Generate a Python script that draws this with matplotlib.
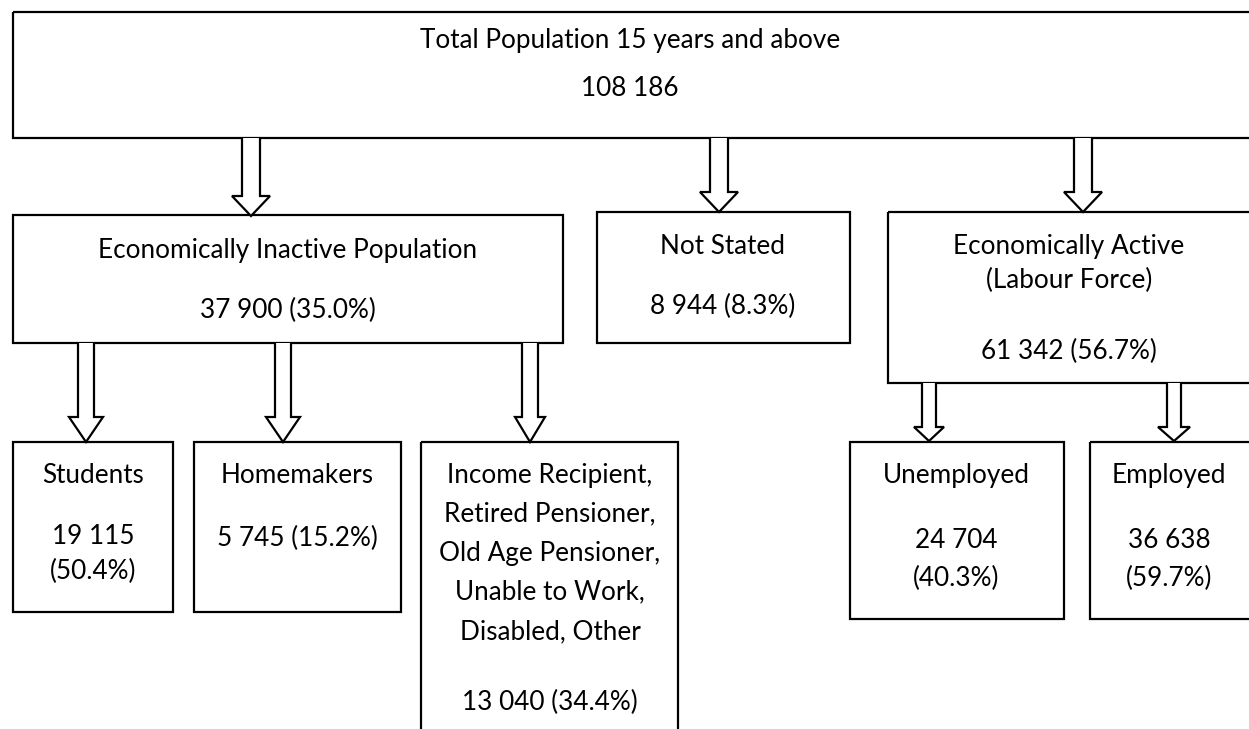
import matplotlib
matplotlib.use("Agg")
import matplotlib.pyplot as plt
from matplotlib.patches import Rectangle, Polygon

plt.rcParams['font.family'] = ['Lato', 'DejaVu Sans']

# ---- data ----
categories = ["Total Population 15 years and above",
              "Economically Inactive Population",
              "Not Stated",
              "Economically Active\n(Labour Force)",
              "Students", "Homemakers",
              "Income Recipient,\nRetired Pensioner,\nOld Age Pensioner,\nUnable to Work,\nDisabled, Other",
              "Unemployed", "Employed"]
counts = ["108 186", "37 900", "8 944", "61 342", "19 115", "5 745", "13 040", "24 704", "36 638"]
shares = [None, "35.0%", "8.3%", "56.7%", "50.4%", "15.2%", "34.4%", "40.3%", "59.7%"]

# ---- layout (pixels, y downward) ----
W, H = 1249, 729
boxes = [  # x0, y0, x1, y1
    (13, 12, 1260, 138),
    (13, 215, 563, 343),
    (597, 212, 850, 343),
    (888, 212, 1260, 383),
    (13, 442, 173, 612),
    (194, 442, 401, 612),
    (421, 442, 678, 740),
    (850, 442, 1064, 619),
    (1090, 442, 1260, 619),
]
texts = [
    [(categories[0], 40), (counts[0], 88)],
    [(categories[1], 250), (f"{counts[1]} ({shares[1]})", 310)],
    [(categories[2], 246), (f"{counts[2]} ({shares[2]})", 306)],
    [("Economically Active", 246), ("(Labour Force)", 280), (f"{counts[3]} ({shares[3]})", 351)],
    [(categories[4], 475), (counts[4], 537), (f"({shares[4]})", 571)],
    [(categories[5], 475), (f"{counts[5]} ({shares[5]})", 538)],
    [("Income Recipient,", 475), ("Retired Pensioner,", 514), ("Old Age Pensioner,", 553),
     ("Unable to Work,", 592), ("Disabled, Other", 632), (f"{counts[6]} ({shares[6]})", 702)],
    [(categories[7], 475), (counts[7], 540), (f"({shares[7]})", 578)],
    [(categories[8], 475), (counts[8], 540), (f"({shares[8]})", 578)],
]
text_x = [630, 288, 723, 1069, 93, 297, 550, 956, 1169]

# arrows: tip x, y_start, y_tip, shaft half-width, head half-width, head height
arrows = [
    (251, 138, 216, 9, 19, 20),
    (719, 138, 212, 9, 19, 20),
    (1083, 138, 212, 9, 19, 20),
    (86, 343, 442, 8, 17, 25),
    (283, 343, 442, 8, 17, 25),
    (530, 343, 442, 8, 15, 25),
    (929, 383, 441, 7, 15, 14),
    (1174, 383, 441, 7, 16, 14),
]

fig = plt.figure(figsize=(W / 100, H / 100), dpi=100)
ax = fig.add_axes([0, 0, 1, 1])
ax.set_xlim(0, W)
ax.set_ylim(H, 0)
ax.axis('off')

lw = 1.6
for (x0, y0, x1, y1) in boxes:
    ax.add_patch(Rectangle((x0, y0), x1 - x0, y1 - y0, fill=False, ec='black', lw=lw, zorder=2))

for (tx, ys, yt, sw, hw, hh) in arrows:
    pts = [(tx - sw, ys), (tx - sw, yt - hh), (tx - hw, yt - hh), (tx, yt),
           (tx + hw, yt - hh), (tx + sw, yt - hh), (tx + sw, ys)]
    ax.add_patch(Polygon(pts, closed=False, fc='white', ec='black', lw=lw, zorder=3))

for lines, x in zip(texts, text_x):
    for (t, y) in lines:
        ax.text(x, y, t, ha='center', va='center', fontsize=18.8, color='black', zorder=4)

fig.savefig("out.png", dpi=100)
